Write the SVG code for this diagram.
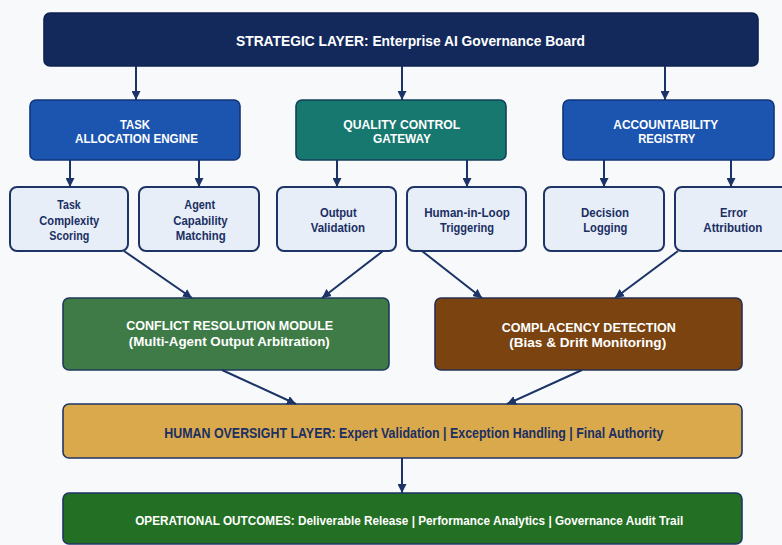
<svg xmlns="http://www.w3.org/2000/svg" width="782" height="545" viewBox="0 0 782 545">
  <defs>
    <marker id="arrow" viewBox="0 0 10 10" refX="10" refY="5" markerWidth="9" markerHeight="9" markerUnits="userSpaceOnUse" orient="auto">
      <path d="M0,0 L10,5 L0,10 Z" fill="#1B3366"/>
    </marker>
    <style>
      .t { font-family: "Liberation Sans", Arial, sans-serif; font-weight: 700; text-anchor: middle; }
      .light { fill: #FFFFFF; }
      .dark { fill: #1B2F63; }
      .box { stroke-width: 1.6; }
      .sub { fill: #E7EEF8; stroke: #1E3466; stroke-width: 2; }
      .conn { fill: none; stroke: #1B3366; stroke-width: 2; marker-end: url(#arrow); }
    </style>
  </defs>

  <rect width="782" height="545" fill="#F8F9FB"/>

  <!-- strategic layer -->
  <g id="strategic">
    <rect class="box" x="44" y="13" width="714" height="53" rx="6" fill="#13295B" stroke="#0E2250"/>
    <text class="t light" x="410.5" y="45.5" font-size="15" textLength="349" lengthAdjust="spacingAndGlyphs">STRATEGIC LAYER: Enterprise AI Governance Board</text>
  </g>

  <!-- second tier -->
  <g id="task-allocation">
    <rect class="box" x="30" y="100" width="210" height="60" rx="6" fill="#1B55B0" stroke="#12357A"/>
    <text class="t light" x="135" y="128.5" font-size="13" textLength="30" lengthAdjust="spacingAndGlyphs">TASK</text>
    <text class="t light" x="136.5" y="143" font-size="13" textLength="123" lengthAdjust="spacingAndGlyphs">ALLOCATION ENGINE</text>
  </g>
  <g id="quality-control">
    <rect class="box" x="296" y="100" width="210" height="60" rx="6" fill="#16786F" stroke="#12405A"/>
    <text class="t light" x="401.7" y="129" font-size="13" textLength="117" lengthAdjust="spacingAndGlyphs">QUALITY CONTROL</text>
    <text class="t light" x="402" y="143.3" font-size="13" textLength="58" lengthAdjust="spacingAndGlyphs">GATEWAY</text>
  </g>
  <g id="accountability">
    <rect class="box" x="563" y="100" width="211" height="60" rx="6" fill="#1B55B0" stroke="#12357A"/>
    <text class="t light" x="665.8" y="129" font-size="13" textLength="105" lengthAdjust="spacingAndGlyphs">ACCOUNTABILITY</text>
    <text class="t light" x="666.7" y="143.3" font-size="13" textLength="57" lengthAdjust="spacingAndGlyphs">REGISTRY</text>
  </g>

  <!-- third tier -->
  <g id="task-complexity">
    <rect class="sub" x="10" y="187" width="118" height="64" rx="7"/>
    <text class="t dark" x="69" y="209" font-size="12.6" textLength="23.4" lengthAdjust="spacingAndGlyphs">Task</text>
    <text class="t dark" x="69.3" y="225" font-size="12.6" textLength="60" lengthAdjust="spacingAndGlyphs">Complexity</text>
    <text class="t dark" x="69.3" y="240" font-size="12.6" textLength="40" lengthAdjust="spacingAndGlyphs">Scoring</text>
  </g>
  <g id="agent-capability">
    <rect class="sub" x="139" y="187" width="120" height="64" rx="7"/>
    <text class="t dark" x="199.7" y="209" font-size="12.6" textLength="30.7" lengthAdjust="spacingAndGlyphs">Agent</text>
    <text class="t dark" x="200.5" y="225" font-size="12.6" textLength="54.3" lengthAdjust="spacingAndGlyphs">Capability</text>
    <text class="t dark" x="200.7" y="240" font-size="12.6" textLength="50" lengthAdjust="spacingAndGlyphs">Matching</text>
  </g>
  <g id="output-validation">
    <rect class="sub" x="277" y="187" width="119" height="64" rx="7"/>
    <text class="t dark" x="338.3" y="216.5" font-size="12.6" textLength="36.7" lengthAdjust="spacingAndGlyphs">Output</text>
    <text class="t dark" x="337.8" y="231.5" font-size="12.6" textLength="54.3" lengthAdjust="spacingAndGlyphs">Validation</text>
  </g>
  <g id="human-in-loop">
    <rect class="sub" x="407" y="187" width="119" height="64" rx="7"/>
    <text class="t dark" x="467" y="216.5" font-size="12.6" textLength="85.7" lengthAdjust="spacingAndGlyphs">Human-in-Loop</text>
    <text class="t dark" x="467" y="231.5" font-size="12.6" textLength="54" lengthAdjust="spacingAndGlyphs">Triggering</text>
  </g>
  <g id="decision-logging">
    <rect class="sub" x="544" y="187" width="120" height="64" rx="7"/>
    <text class="t dark" x="605" y="216.5" font-size="12.6" textLength="48" lengthAdjust="spacingAndGlyphs">Decision</text>
    <text class="t dark" x="605.3" y="231.5" font-size="12.6" textLength="44" lengthAdjust="spacingAndGlyphs">Logging</text>
  </g>
  <g id="error-attribution">
    <rect class="sub" x="675" y="187" width="118" height="64" rx="7"/>
    <text class="t dark" x="733.7" y="216.5" font-size="12.6" textLength="27.3" lengthAdjust="spacingAndGlyphs">Error</text>
    <text class="t dark" x="732.8" y="231.5" font-size="12.6" textLength="59" lengthAdjust="spacingAndGlyphs">Attribution</text>
  </g>

  <!-- analysis modules -->
  <g id="conflict-resolution">
    <rect class="box" x="63" y="298" width="326" height="72" rx="6" fill="#3E7B46" stroke="#1F3A5A"/>
    <text class="t light" x="229.7" y="330" font-size="13.5" textLength="207" lengthAdjust="spacingAndGlyphs">CONFLICT RESOLUTION MODULE</text>
    <text class="t light" x="229.3" y="345.5" font-size="13.5" textLength="201" lengthAdjust="spacingAndGlyphs">(Multi-Agent Output Arbitration)</text>
  </g>
  <g id="complacency-detection">
    <rect class="box" x="435" y="298" width="307" height="72" rx="6" fill="#7A430F" stroke="#2A2F50"/>
    <text class="t light" x="588.8" y="331.5" font-size="13.5" textLength="174" lengthAdjust="spacingAndGlyphs">COMPLACENCY DETECTION</text>
    <text class="t light" x="587.7" y="347" font-size="13.5" textLength="157" lengthAdjust="spacingAndGlyphs">(Bias &amp; Drift Monitoring)</text>
  </g>

  <!-- human oversight -->
  <g id="human-oversight">
    <rect class="box" x="63" y="404" width="679" height="54" rx="6" fill="#D9A94C" stroke="#1F3566"/>
    <text class="t dark" x="413.8" y="438" font-size="14.5" textLength="499" lengthAdjust="spacingAndGlyphs">HUMAN OVERSIGHT LAYER: Expert Validation | Exception Handling | Final Authority</text>
  </g>

  <!-- outcomes -->
  <g id="operational-outcomes">
    <rect class="box" x="63" y="493" width="679" height="51" rx="6" fill="#236F23" stroke="#1F3566"/>
    <text class="t light" x="409.2" y="524.5" font-size="13.5" textLength="548" lengthAdjust="spacingAndGlyphs">OPERATIONAL OUTCOMES: Deliverable Release | Performance Analytics | Governance Audit Trail</text>
  </g>

  <!-- connectors -->
  <g id="connectors">
    <line class="conn" x1="136" y1="66" x2="136" y2="100"/>
    <line class="conn" x1="402" y1="66" x2="402" y2="100"/>
    <line class="conn" x1="665" y1="66" x2="665" y2="100"/>
    <line class="conn" x1="70" y1="160" x2="70" y2="187"/>
    <line class="conn" x1="199" y1="160" x2="199" y2="187"/>
    <line class="conn" x1="337" y1="160" x2="337" y2="187"/>
    <line class="conn" x1="467" y1="160" x2="467" y2="187"/>
    <line class="conn" x1="604" y1="160" x2="604" y2="187"/>
    <line class="conn" x1="731" y1="160" x2="731" y2="187"/>
    <line class="conn" x1="124" y1="251" x2="192" y2="298"/>
    <line class="conn" x1="383" y1="251" x2="322" y2="298"/>
    <line class="conn" x1="422" y1="251" x2="482" y2="298"/>
    <line class="conn" x1="678" y1="251" x2="615" y2="298"/>
    <line class="conn" x1="222" y1="370" x2="296" y2="404"/>
    <line class="conn" x1="582" y1="370" x2="507" y2="404"/>
    <line class="conn" x1="402" y1="458" x2="402" y2="493"/>
  </g>
</svg>
